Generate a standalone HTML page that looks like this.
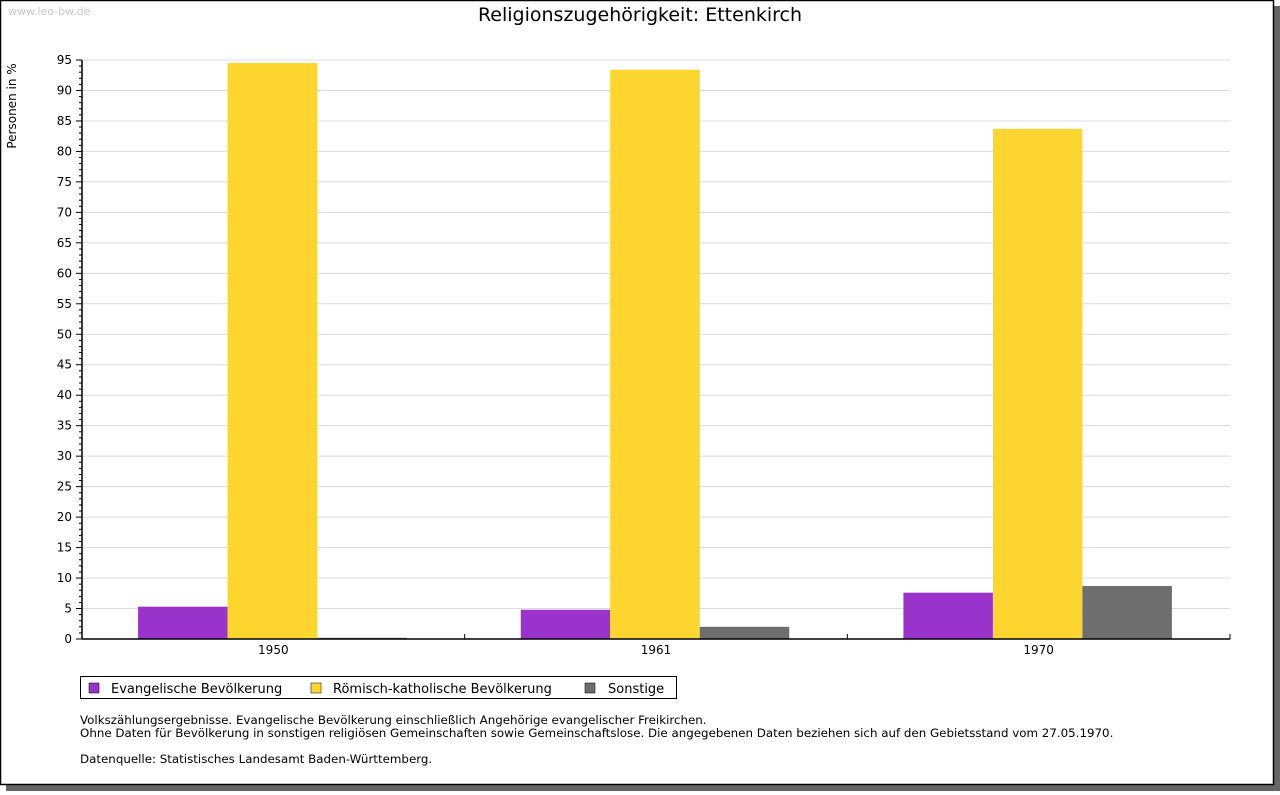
<!DOCTYPE html>
<html><head><meta charset="utf-8"><style>
body{margin:0;width:1280px;height:791px;background:#fff;overflow:hidden;font-family:"DejaVu Sans","Liberation Sans",sans-serif}
svg text{font-family:"DejaVu Sans","Liberation Sans",sans-serif}
</style></head><body>
<svg width="1280" height="791" xmlns="http://www.w3.org/2000/svg">
<rect x="6" y="6" width="1274" height="785" fill="#666"/>
<rect x="0.5" y="0.5" width="1273" height="784" fill="#fff" stroke="#000" stroke-width="1.5"/>
<text x="8" y="15" font-size="11" fill="#c8c8c8">www.leo-bw.de</text>
<text x="640" y="21" font-size="19" text-anchor="middle" fill="#000">Religionszugehörigkeit: Ettenkirch</text>
<text transform="translate(16,106) rotate(-90)" font-size="12" text-anchor="middle">Personen in %</text>
<g id="plot"></g>
<g>
<rect x="80.5" y="676.5" width="596" height="22" fill="#fff" stroke="#000"/>
<rect x="89" y="683" width="10" height="10" fill="#9933cc" stroke="#000" stroke-width="0.5"/>
<text x="111" y="693" font-size="13">Evangelische Bevölkerung</text>
<rect x="311" y="683" width="10" height="10" fill="#fcd52f" stroke="#000" stroke-width="0.5"/>
<text x="333" y="693" font-size="13">Römisch-katholische Bevölkerung</text>
<rect x="585" y="683" width="10" height="10" fill="#6e6e6e" stroke="#000" stroke-width="0.5"/>
<text x="608" y="693" font-size="13">Sonstige</text>
</g>
<g font-size="11.85" fill="#000">
<text x="80" y="724">Volkszählungsergebnisse. Evangelische Bevölkerung einschließlich Angehörige evangelischer Freikirchen.</text>
<text x="80" y="737">Ohne Daten für Bevölkerung in sonstigen religiösen Gemeinschaften sowie Gemeinschaftslose. Die angegebenen Daten beziehen sich auf den Gebietsstand vom 27.05.1970.</text>
<text x="80" y="763">Datenquelle: Statistisches Landesamt Baden-Württemberg.</text>
</g>
</svg>
<script>
const categories=["1950","1961","1970"];
const evangelisch=[5.3,4.8,7.6];
const katholisch=[94.5,93.4,83.7];
const sonstige=[0.2,2.0,8.7];
const yTicks=[0,5,10,15,20,25,30,35,40,45,50,55,60,65,70,75,80,85,90,95];
const seriesNames=["evangelisch","katholisch","sonstige"];
const NS="http://www.w3.org/2000/svg";
const g=document.getElementById('plot');
const X0=82,X1=1230,Y0=639,Y1=60,YMAX=95;
const y=v=>Y0-(v/YMAX)*(Y0-Y1);
const gw=(X1-X0)/categories.length;
const bw=89.5;
const x=(i,s)=>X0+i*gw+(gw-3*bw)/2-1+s*bw;
function el(t,a){const e=document.createElementNS(NS,t);for(const k in a)e.setAttribute(k,a[k]);g.appendChild(e);return e;}
yTicks.forEach(t=>{
 if(t>0){const l=el('line',{x1:X0,x2:X1,y1:y(t),y2:y(t),stroke:'#dcdcdc'});
 
 }
 const tk=el('line',{x1:X0-6,x2:X0,y1:y(t),y2:y(t),stroke:'#000'});
 
 
 const tx=el('text',{x:X0-10,y:y(t)+4,'font-size':12,'text-anchor':'end'});
 tx.textContent=t;
 
 
});
for(let v=1;v<YMAX;v++){if(v%5)el('line',{x1:X0-3,x2:X0,y1:y(v),y2:y(v),stroke:'#000'});}
const colors=['#9933cc','#fcd52f','#6e6e6e'];
[evangelisch,katholisch,sonstige].forEach((arr,s)=>{
 arr.forEach((v,i)=>{
  const r=el('rect',{x:x(i,s),y:y(v),width:bw,height:Y0-y(v),fill:colors[s]});
  
  
 });
});
const ax=el('line',{x1:X0,x2:X0,y1:Y1,y2:Y0,stroke:'#000','stroke-width':1.5});


const bx=el('line',{x1:X0,x2:X1,y1:Y0,y2:Y0,stroke:'#000','stroke-width':1.5});


for(let i=1;i<=categories.length;i++)el('line',{x1:X0+i*gw,x2:X0+i*gw,y1:Y0-5,y2:Y0,stroke:'#000'});
categories.forEach((c,i)=>{
 const t=el('text',{x:X0+(i+0.5)*gw,y:Y0+15,'font-size':12,'text-anchor':'middle'});
 t.textContent=c;
 
 
});
</script>
</body></html>
